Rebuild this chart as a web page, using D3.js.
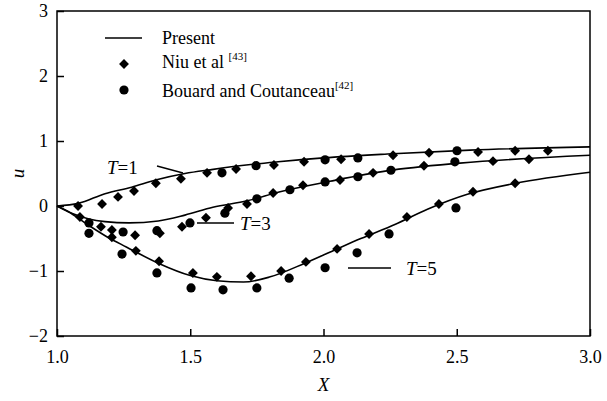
<!DOCTYPE html>
<html>
<head>
<meta charset="utf-8">
<script src="https://cdn.jsdelivr.net/npm/d3@7"></script>
<style>
  html, body { margin: 0; padding: 0; background: #fff; }
  svg { display: block; }
</style>
</head>
<body>
<div id="chart"></div>
<script>
// axis ticks
var xTicks = [1.0, 1.5, 2.0, 2.5, 3.0];
var yTicks = [-2, -1, 0, 1, 2, 3];

// Present (solid lines)
var presT1X = [1.0, 1.08, 1.18, 1.28, 1.37, 1.48, 1.58, 1.71, 1.83, 2.0, 2.24, 2.55, 3.0];
var presT1U = [0, 0.04, 0.19, 0.29, 0.40, 0.50, 0.56, 0.63, 0.68, 0.74, 0.80, 0.86, 0.91];
var presT3X = [1.0, 1.06, 1.12, 1.18, 1.27, 1.38, 1.48, 1.585, 1.713, 1.837, 2.024, 2.237, 2.512, 3.0];
var presT3U = [0, -0.12, -0.20, -0.24, -0.26, -0.23, -0.14, -0.02, 0.08, 0.22, 0.38, 0.54, 0.66, 0.78];
var presT5X = [1.0, 1.04, 1.116, 1.19, 1.26, 1.38, 1.50, 1.60, 1.70, 1.80, 1.93, 2.04, 2.14, 2.27, 2.39, 2.54, 2.72, 3.0];
var presT5U = [0, -0.08, -0.29, -0.48, -0.63, -0.88, -1.07, -1.15, -1.17, -1.09, -0.88, -0.68, -0.50, -0.28, -0.05, 0.18, 0.35, 0.52];

// Niu et al (diamonds)
var niuT1X = [1.079, 1.169, 1.229, 1.289, 1.371, 1.465, 1.563, 1.672, 1.814, 1.927, 2.066, 2.261, 2.396, 2.580, 2.719, 2.842];
var niuT1U = [0.00, 0.03, 0.14, 0.23, 0.35, 0.42, 0.51, 0.57, 0.63, 0.68, 0.72, 0.78, 0.82, 0.83, 0.85, 0.85];
var niuT3X = [1.086, 1.165, 1.206, 1.293, 1.386, 1.469, 1.559, 1.642, 1.713, 1.811, 1.923, 2.062, 2.186, 2.377, 2.636, 2.771];
var niuT3U = [-0.17, -0.32, -0.37, -0.45, -0.42, -0.32, -0.18, -0.03, 0.03, 0.20, 0.32, 0.40, 0.51, 0.62, 0.69, 0.72];
var niuT5X = [1.206, 1.296, 1.383, 1.510, 1.600, 1.728, 1.841, 1.934, 2.051, 2.171, 2.313, 2.433, 2.561, 2.719];
var niuT5U = [-0.48, -0.69, -0.85, -1.03, -1.09, -1.08, -1.00, -0.86, -0.66, -0.43, -0.17, 0.03, 0.22, 0.35];

// Bouard and Coutanceau (circles)
var bcT1X = [1.619, 1.747, 2.006, 2.129, 2.501];
var bcT1U = [0.51, 0.62, 0.71, 0.74, 0.85];
var bcT3X = [1.120, 1.248, 1.375, 1.499, 1.630, 1.750, 1.874, 2.006, 2.129, 2.253, 2.493];
var bcT3U = [-0.26, -0.40, -0.38, -0.26, -0.11, 0.11, 0.25, 0.37, 0.45, 0.55, 0.68];
var bcT5X = [1.120, 1.244, 1.375, 1.503, 1.623, 1.750, 1.871, 2.006, 2.126, 2.246, 2.497];
var bcT5U = [-0.42, -0.74, -1.03, -1.26, -1.29, -1.26, -1.11, -0.95, -0.72, -0.43, -0.03];

var width = 607, height = 401;
var margin = {left: 57, right: 17, top: 11, bottom: 65};
var font = '"Liberation Serif", "Times New Roman", serif';

var svg = d3.select("#chart").append("svg")
    .attr("width", width)
    .attr("height", height);

var x = d3.scaleLinear().domain([1, 3]).range([margin.left, width - margin.right]);
var y = d3.scaleLinear().domain([-2, 3]).range([height - margin.bottom, margin.top]);

function zip(xs, us) {
    return xs.map(function (v, i) { return [v, us[i]]; });
}

// frame
svg.append("rect")
    .attr("x", x(1)).attr("y", y(3))
    .attr("width", x(3) - x(1)).attr("height", y(-2) - y(3))
    .attr("fill", "none").attr("stroke", "#000").attr("stroke-width", 1.5);

// x axis, ticks inside
var gx = svg.append("g")
    .attr("transform", "translate(0," + y(-2) + ")")
    .call(d3.axisBottom(x).tickValues(xTicks).tickSizeInner(-7).tickSizeOuter(0).tickPadding(14)
        .tickFormat(d3.format(".1f")));
gx.select(".domain").remove();
gx.selectAll("line").attr("stroke-width", 1.5);
gx.selectAll("text").attr("font-family", font).attr("font-size", "18px").attr("fill", "#000");

// y axis, ticks inside
var gy = svg.append("g")
    .attr("transform", "translate(" + x(1) + ",0)")
    .call(d3.axisLeft(y).tickValues(yTicks).tickSizeInner(-7).tickSizeOuter(0).tickPadding(9)
        .tickFormat(function (d) { return d < 0 ? "\u2212" + Math.abs(d) : d; }));
gy.select(".domain").remove();
gy.selectAll("line").attr("stroke-width", 1.5);
gy.selectAll("text").attr("font-family", font).attr("font-size", "18px").attr("fill", "#000");

// axis titles
svg.append("text")
    .attr("x", (x(1) + x(3)) / 2).attr("y", 391)
    .attr("text-anchor", "middle")
    .attr("font-family", font).attr("font-size", "19px").attr("font-style", "italic")
    .text("X");
svg.append("text")
    .attr("transform", "translate(24," + y(0.5) + ") rotate(-90)")
    .attr("text-anchor", "middle")
    .attr("font-family", font).attr("font-size", "19px").attr("font-style", "italic")
    .text("u");

// present curves
var line = d3.line()
    .x(function (d) { return x(d[0]); })
    .y(function (d) { return y(d[1]); })
    .curve(d3.curveMonotoneX);

[zip(presT1X, presT1U), zip(presT3X, presT3U), zip(presT5X, presT5U)].forEach(function (s) {
    svg.append("path")
        .datum(s)
        .attr("d", line)
        .attr("fill", "none")
        .attr("stroke", "#000")
        .attr("stroke-width", 1.6);
});

// markers
var diamond = d3.symbol().type(d3.symbolDiamond2).size(62);
var niu = zip(niuT1X, niuT1U).concat(zip(niuT3X, niuT3U), zip(niuT5X, niuT5U));
svg.append("g").selectAll("path")
    .data(niu)
    .join("path")
    .attr("transform", function (d) { return "translate(" + x(d[0]) + "," + y(d[1]) + ")"; })
    .attr("d", diamond)
    .attr("fill", "#000");

var bc = zip(bcT1X, bcT1U).concat(zip(bcT3X, bcT3U), zip(bcT5X, bcT5U));
svg.append("g").selectAll("circle")
    .data(bc)
    .join("circle")
    .attr("cx", function (d) { return x(d[0]); })
    .attr("cy", function (d) { return y(d[1]); })
    .attr("r", 4.6)
    .attr("fill", "#000");

// T labels
function tLabel(tx, ty, num) {
    var t = svg.append("text")
        .attr("x", tx).attr("y", ty)
        .attr("font-family", font).attr("font-size", "19px");
    t.append("tspan").attr("font-style", "italic").text("T");
    t.append("tspan").text("=" + num);
}
tLabel(107, 174, 1);
svg.append("line").attr("x1", 157).attr("y1", 166).attr("x2", 183).attr("y2", 173)
    .attr("stroke", "#000").attr("stroke-width", 1.3);
tLabel(240, 230, 3);
svg.append("line").attr("x1", 197).attr("y1", 223).attr("x2", 234).attr("y2", 223)
    .attr("stroke", "#000").attr("stroke-width", 1.3);
tLabel(406, 275, 5);
svg.append("line").attr("x1", 348).attr("y1", 268).attr("x2", 391).attr("y2", 268)
    .attr("stroke", "#000").attr("stroke-width", 1.3);

// legend
var lg = svg.append("g");
lg.append("line").attr("x1", 105).attr("y1", 38).attr("x2", 142).attr("y2", 38)
    .attr("stroke", "#000").attr("stroke-width", 1.6);
lg.append("text").attr("x", 162).attr("y", 44)
    .attr("font-family", font).attr("font-size", "18px").text("Present");
lg.append("path").attr("transform", "translate(124,64)").attr("d", diamond).attr("fill", "#000");
var t2 = lg.append("text").attr("x", 162).attr("y", 68)
    .attr("font-family", font).attr("font-size", "18px");
t2.append("tspan").text("Niu et al ");
t2.append("tspan").attr("font-size", "11px").attr("dy", -8).text("[43]");
lg.append("circle").attr("cx", 124).attr("cy", 90).attr("r", 4.6).attr("fill", "#000");
var t3 = lg.append("text").attr("x", 162).attr("y", 97)
    .attr("font-family", font).attr("font-size", "18px");
t3.append("tspan").text("Bouard and Coutanceau");
t3.append("tspan").attr("font-size", "11px").attr("dy", -8).text("[42]");
</script>
</body>
</html>
